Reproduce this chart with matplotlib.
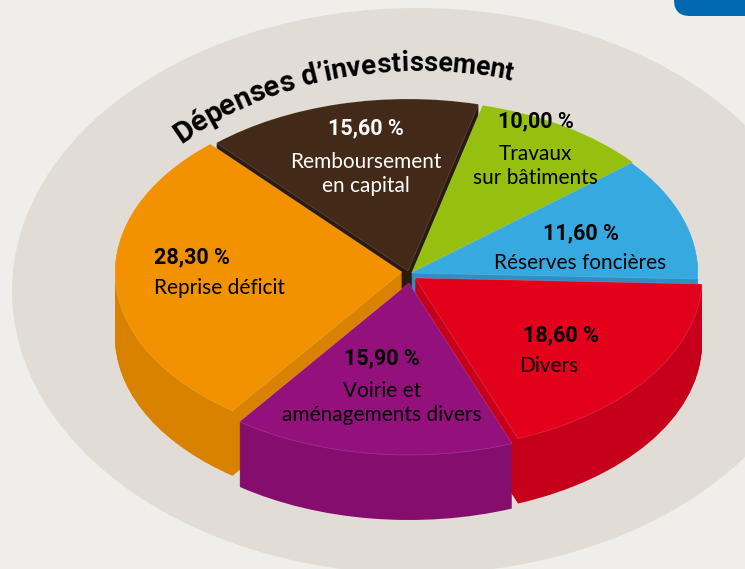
import numpy as np
import matplotlib
matplotlib.use("Agg")
import matplotlib.pyplot as plt
from matplotlib.patches import Wedge, Ellipse, FancyBboxPatch
from matplotlib.textpath import TextPath
from matplotlib.font_manager import FontProperties

W, H = 745, 569

# ---- data (clockwise from the red slice) ----
categories = ["Divers", "Voirie et\naménagements divers", "Reprise déficit",
              "Remboursement\nen capital", "Travaux\nsur bâtiments", "Réserves foncières"]
values = [18.6, 15.9, 28.3, 15.6, 10.0, 11.6]
value_labels = ["18,60 %", "15,90 %", "28,30 %", "15,60 %", "10,00 %", "11,60 %"]
title = "Dépenses d’investissement"

# ---- style ----
top_colors = ["#E3001B", "#93107D", "#F39200", "#432918", "#95C00F", "#36A9E1"]
wall_colors = ["#C6001A", "#850D6E", "#D98200", "#2A1A0F", "#7FA30C", "#2F8FC2"]
apex_px = [(415, 278), (409, 283), (402, 272), (408, 271), (412, 272), (411, 273)]
draw_order = [3, 4, 5, 2, 0, 1]
pct_pos = [(561, 335), (382, 358), (192, 257), (366, 128), (536, 121), (581, 233)]
name_pos = [(549, 366), (382, 403), (219, 288), (366, 174), (535, 166), (580, 263)]
text_colors = ["black", "black", "black", "white", "black", "black"]
RX, RY = 287, 172
DEPTH = 65
START = -2.0
K = RY / RX

SANS = ["Lato", "DejaVu Sans"]
BOLD = ["Roboto", "DejaVu Sans"]

fig = plt.figure(figsize=(W / 100, H / 100), dpi=100, facecolor="#EFEEEA")

ax_bg = fig.add_axes([0, 0, 1, 1])
ax_bg.set_xlim(0, W); ax_bg.set_ylim(H, 0); ax_bg.axis("off")
ax_bg.add_patch(Ellipse((417, 291), 810, 566, fc="#E1DDD6", ec="none"))
ax_bg.add_patch(FancyBboxPatch((690, -40), 100, 40, boxstyle="round,pad=16,rounding_size=16",
                               fc="#0068B0", ec="none", clip_on=True))
ax_bg.text(708, -5, "g", color="white", fontsize=15, fontweight="bold", family=BOLD,
           ha="center", va="baseline", clip_on=True)

# Pie axes: a circle in data space projects to the flattened ellipse on the page
ax_pie = fig.add_axes([0, 0, 1, 1])
ax_pie.set_xlim(0, W); ax_pie.set_ylim(0, H / K); ax_pie.axis("off"); ax_pie.patch.set_alpha(0)

sweeps = np.array(values) / sum(values) * 360
ends = START - np.cumsum(sweeps)
starts = ends + sweeps

for i in draw_order:
    ax_, ay_ = apex_px[i]
    for d in range(DEPTH, 0, -1):
        ax_pie.add_patch(Wedge((ax_, (H - ay_ - d) / K), RX, ends[i], starts[i],
                               fc=wall_colors[i], ec="none"))
    ax_pie.add_patch(Wedge((ax_, (H - ay_) / K), RX, ends[i], starts[i],
                           fc=top_colors[i], ec=(1, 1, 1, 0.18), lw=0.5))

# Text axes
ax_t = fig.add_axes([0, 0, 1, 1])
ax_t.set_xlim(0, W); ax_t.set_ylim(H, 0); ax_t.axis("off"); ax_t.patch.set_alpha(0)

for i in range(len(values)):
    ha = "center"
    ax_t.text(*pct_pos[i], value_labels[i], color=text_colors[i], fontsize=15.5, fontweight="bold",
              family=BOLD, ha="center", va="center")
    ax_t.text(*name_pos[i], categories[i], color=text_colors[i], fontsize=15, family=SANS,
              ha="center", va="center", linespacing=1.2)

# Curved title: glyphs placed one by one along an elliptical baseline
A, B, CX, TOP = 340.0, 252.0, 420.0, 71.0
ts = np.linspace(-np.pi / 2 + 0.0, np.pi / 2, 4000)
def base(dx):
    return TOP + B * (1 - np.sqrt(1 - (dx / A) ** 2))
xs = np.linspace(178, 520, 3000)
ys = base(xs - CX)
arc = np.concatenate([[0], np.cumsum(np.hypot(np.diff(xs), np.diff(ys)))])

s_pos = np.hypot(0, 0) + 4
sizes = np.linspace(21.5, 19.0, len(title))
for ch, fs in zip(title, sizes):
    fp = FontProperties(family=BOLD, weight="bold", size=fs)
    px = fs * 100 / 72
    adv = TextPath((0, 0), ch + "n", prop=fp, size=px).get_extents().width - \
          TextPath((0, 0), "n", prop=fp, size=px).get_extents().width
    if ch == " ":
        adv = 0.24 * px
    mid = s_pos + adv / 2
    x = np.interp(mid, arc, xs)
    y = np.interp(mid, arc, ys)
    slope = np.gradient(ys, xs)[np.searchsorted(xs, x).clip(0, len(xs) - 1)]
    ang = -np.degrees(np.arctan(slope))
    if ch != " ":
        ax_t.text(x, y, ch, fontproperties=fp, color="black", rotation=ang,
                  rotation_mode="anchor", ha="center", va="baseline")
    s_pos += adv * 0.97

fig.savefig("out.png", dpi=100, facecolor=fig.get_facecolor())
